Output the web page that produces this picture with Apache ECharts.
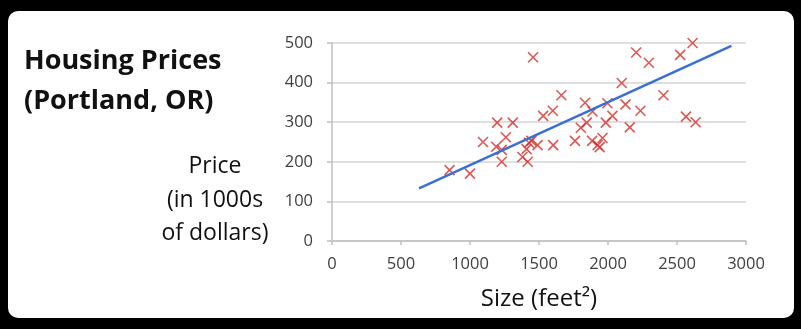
<!DOCTYPE html>
<html>
<head>
<meta charset="utf-8">
<script src="https://cdn.jsdelivr.net/npm/echarts@6/dist/echarts.min.js"></script>
<style>
html,body{margin:0;padding:0;background:#000;}
#chart{width:801px;height:329px;}
</style>
</head>
<body>
<div id="chart"></div>
<script>
// Data
const sizes  = [852, 1000, 1094, 1197, 1190, 1230, 1230, 1260, 1310, 1380, 1418, 1410, 1427, 1445, 1457, 1490, 1530, 1600, 1603, 1662, 1761, 1803, 1834, 1846, 1888, 1885, 1925, 1940, 1960, 1984, 1996, 2032, 2100, 2127, 2158, 2204, 2235, 2296, 2402, 2523, 2565, 2613, 2635];
const prices = [179, 170, 250, 299, 238, 230, 200, 262, 299, 212, 200, 232, 248, 253, 464, 242, 316, 329, 242, 368, 253, 286, 349, 299, 327, 253, 242, 237, 260, 299, 348, 316, 399, 345, 287, 476, 329, 450, 368, 470, 314, 500, 300];
const fitX = [631, 2894];
const fitY = [133, 493];
const xTicks = [0, 500, 1000, 1500, 2000, 2500, 3000];
const yTicks = [0, 100, 200, 300, 400, 500];

const chart = echarts.init(document.getElementById('chart'), null, {renderer: 'canvas'});
const pts = sizes.map((s, i) => [s, prices[i]]);
const fit = fitX.map((x, i) => [x, fitY[i]]);

chart.setOption({
  backgroundColor: '#000',
  animation: false,
  graphic: [
    {type: 'rect', z: -10, shape: {x: 8, y: 11, width: 786, height: 307, r: 10}, style: {fill: '#fff'}},
    {type: 'text', left: 24, top: 48, style: {text: 'Housing Prices', font: 'bold 27px "Open Sans"', fill: '#111'}},
    {type: 'text', left: 24, top: 88, style: {text: '(Portland, OR)', font: 'bold 27px "Open Sans"', fill: '#111'}},
    {type: 'text', x: 215, y: 155, style: {text: 'Price', font: '23px "Open Sans"', fill: '#111', textAlign: 'center'}},
    {type: 'text', x: 215, y: 189, style: {text: '(in 1000s', font: '23px "Open Sans"', fill: '#111', textAlign: 'center'}},
    {type: 'text', x: 215, y: 222, style: {text: 'of dollars)', font: '23px "Open Sans"', fill: '#111', textAlign: 'center'}}
  ],
  grid: {left: 332, right: 55, top: 43, bottom: 88, containLabel: false},
  xAxis: {
    type: 'value', min: 0, max: 3000, interval: 500,
    name: 'Size (feet²)', nameLocation: 'middle', nameGap: 46,
    nameTextStyle: {fontFamily: 'Open Sans', fontSize: 24, color: '#111'},
    axisLine: {show: true, lineStyle: {color: '#bfbfbf', width: 1.5}},
    axisTick: {show: true, length: 4, lineStyle: {color: '#bfbfbf', width: 1.5}},
    axisLabel: {fontFamily: 'Open Sans', fontSize: 16.5, color: '#404040', margin: 15,
      formatter: v => xTicks.includes(v) ? String(v) : ''},
    splitLine: {show: false}
  },
  yAxis: {
    type: 'value', min: 0, max: 500, interval: 100,
    axisLine: {show: true, lineStyle: {color: '#bfbfbf', width: 1.5}},
    axisTick: {show: true, inside: false, length: 5, lineStyle: {color: '#bfbfbf', width: 1.5}},
    axisLabel: {fontFamily: 'Open Sans', fontSize: 16.5, color: '#404040', margin: 19,
      formatter: v => yTicks.includes(v) ? String(v) : ''},
    splitLine: {show: true, lineStyle: {color: '#d4d4d4', width: 1.5}}
  },
  series: [
    {
      type: 'scatter', data: pts,
      symbol: 'path://M0,0L10,10M0,10L10,0', symbolSize: 10,
      itemStyle: {color: 'transparent', borderColor: '#d2302b', borderWidth: 1.6},
      z: 3
    },
    {
      type: 'line', data: fit, symbol: 'none',
      lineStyle: {color: '#3a6fd3', width: 2.5},
      z: 4
    }
  ]
});
</script>
</body>
</html>
